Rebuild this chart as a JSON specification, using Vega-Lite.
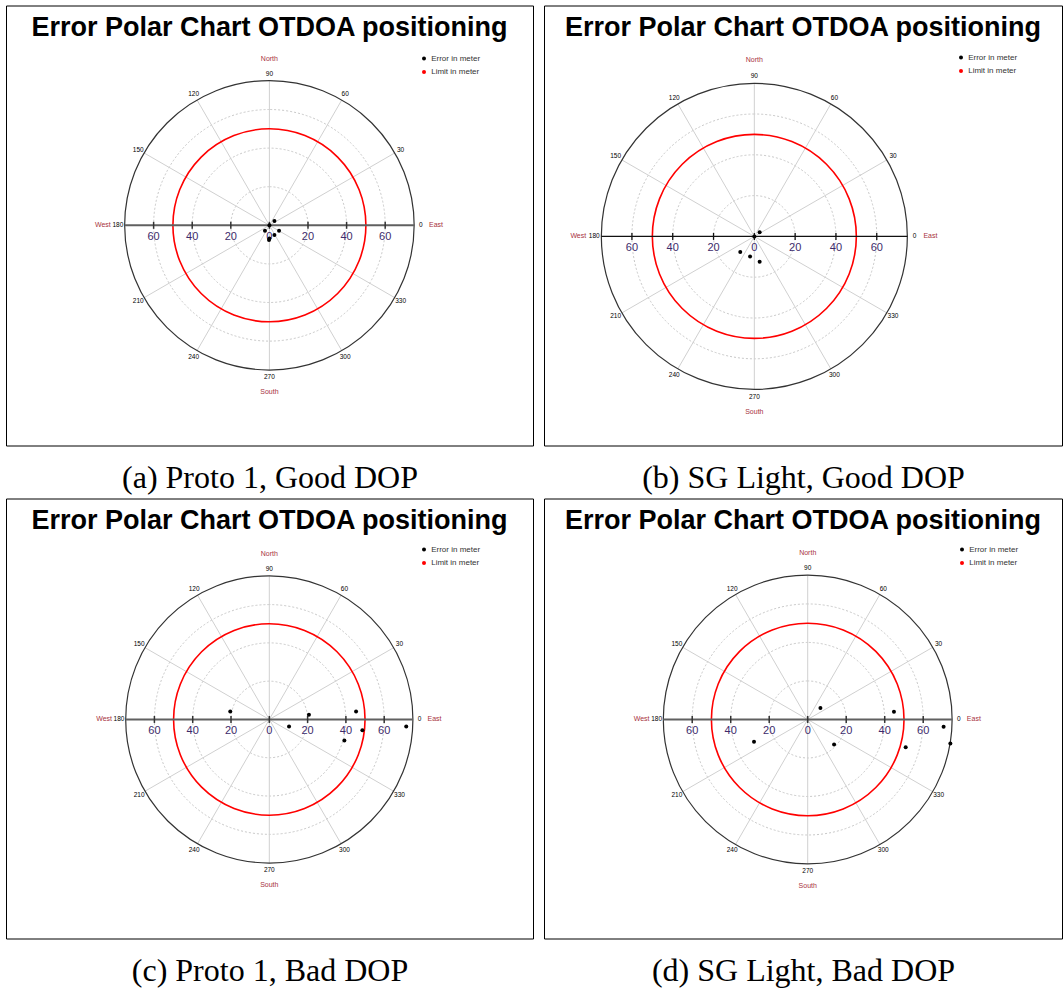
{
  "$schema": "https://vega.github.io/schema/vega-lite/v6.json",
  "padding": {"left": 5, "top": 4.5, "right": 0, "bottom": 0},
  "background": "white",
  "config": {
    "font": "Liberation Sans",
    "view": {"stroke": "black", "strokeWidth": 1},
    "title": {"font": "Liberation Sans", "fontSize": 27, "fontWeight": "bold", "color": "black", "anchor": "middle", "offset": -36},
    "axisX": {"domain": false, "ticks": false, "labels": false, "grid": false, "titleFont": "Liberation Serif", "titleFontSize": 32, "titleFontWeight": "normal", "titleColor": "black", "titlePadding": 17},
    "legend": {"title": null, "orient": "none", "direction": "vertical", "symbolType": "circle", "symbolSize": 16, "symbolStrokeWidth": 0, "labelFont": "Liberation Sans", "labelFontSize": 8, "labelColor": "#333333", "rowPadding": 5.6, "labelOffset": 3.2, "padding": 0}
  },
  "datasets": {
    "circles": [{"x": 0, "y": 0, "r": 20}, {"x": 0, "y": 0, "r": 40}, {"x": 0, "y": 0, "r": 60}],
    "outer": [{"x": 0, "y": 0, "r": 75}],
    "limit": [{"x": 0, "y": 0, "r": 50}],
    "spokes": [
      {"x": 64.95, "y": 37.5, "x2": -64.95, "y2": -37.5},
      {"x": 37.5, "y": 64.95, "x2": -37.5, "y2": -64.95},
      {"x": 0, "y": 75, "x2": 0, "y2": -75},
      {"x": -37.5, "y": 64.95, "x2": 37.5, "y2": -64.95},
      {"x": -64.95, "y": 37.5, "x2": 64.95, "y2": -37.5}
    ],
    "axisline": [{"x": -75, "y": 0, "x2": 75, "y2": 0}],
    "ticks": [{"x": -60, "y": 0, "lab": "60"}, {"x": -40, "y": 0, "lab": "40"}, {"x": -20, "y": 0, "lab": "20"}, {"x": 0, "y": 0, "lab": "0"}, {"x": 20, "y": 0, "lab": "20"}, {"x": 40, "y": 0, "lab": "40"}, {"x": 60, "y": 0, "lab": "60"}],
    "angles": [{"x": 0, "y": 0, "ang": 0, "lab": "0"}, {"x": 0, "y": 0, "ang": 30, "lab": "30"}, {"x": 0, "y": 0, "ang": 60, "lab": "60"}, {"x": 0, "y": 0, "ang": 90, "lab": "90"}, {"x": 0, "y": 0, "ang": 120, "lab": "120"}, {"x": 0, "y": 0, "ang": 150, "lab": "150"}, {"x": 0, "y": 0, "ang": 180, "lab": "180"}, {"x": 0, "y": 0, "ang": 210, "lab": "210"}, {"x": 0, "y": 0, "ang": 240, "lab": "240"}, {"x": 0, "y": 0, "ang": 270, "lab": "270"}, {"x": 0, "y": 0, "ang": 300, "lab": "300"}, {"x": 0, "y": 0, "ang": 330, "lab": "330"}],
    "compass": [{"x": 0, "y": 0, "ang": 0, "lab": "East"}, {"x": 0, "y": 0, "ang": 90, "lab": "North"}, {"x": 0, "y": 0, "ang": 180, "lab": "West"}, {"x": 0, "y": 0, "ang": 270, "lab": "South"}],
    "pa": [{"x": 0, "y": 0, "series": "Error in meter"}, {"x": 2.6, "y": 2.2, "series": "Error in meter"}, {"x": -2.3, "y": -2.8, "series": "Error in meter"}, {"x": 5.0, "y": -2.8, "series": "Error in meter"}, {"x": 2.6, "y": -5.0, "series": "Error in meter"}, {"x": 0, "y": -6.8, "series": "Error in meter"}, {"x": -0.2, "y": -7.6, "series": "Error in meter"}],
    "pb": [{"x": 0, "y": 0, "series": "Error in meter"}, {"x": 2.6, "y": 2.0, "series": "Error in meter"}, {"x": -6.9, "y": -7.7, "series": "Error in meter"}, {"x": -2.1, "y": -9.8, "series": "Error in meter"}, {"x": 2.6, "y": -12.4, "series": "Error in meter"}],
    "pc": [{"x": -20.4, "y": 4.2, "series": "Error in meter"}, {"x": 20.7, "y": 2.5, "series": "Error in meter"}, {"x": 10.3, "y": -3.7, "series": "Error in meter"}, {"x": 45.3, "y": 4.2, "series": "Error in meter"}, {"x": 48.6, "y": -5.6, "series": "Error in meter"}, {"x": 39.2, "y": -11.0, "series": "Error in meter"}, {"x": 71.5, "y": -3.7, "series": "Error in meter"}],
    "pd": [{"x": 6.6, "y": 5.9, "series": "Error in meter"}, {"x": 44.8, "y": 4.0, "series": "Error in meter"}, {"x": -27.9, "y": -11.6, "series": "Error in meter"}, {"x": 13.7, "y": -13.0, "series": "Error in meter"}, {"x": 50.9, "y": -14.4, "series": "Error in meter"}, {"x": 70.6, "y": -3.8, "series": "Error in meter"}, {"x": 74.1, "y": -12.5, "series": "Error in meter"}]
  },
  "spacing": 3,
  "resolve": {"scale": {"color": "independent"}, "legend": {"color": "independent"}},
  "vconcat": [
    {
      "spacing": 9,
      "resolve": {"scale": {"color": "independent"}, "legend": {"color": "independent"}},
      "hconcat": [
        {
          "width": 527, "height": 440,
          "title": {"text": "Error Polar Chart OTDOA positioning"},
          "encoding": {
            "x": {"field": "x", "type": "quantitative", "scale": {"domain": [-136.5, 136.6], "nice": false, "zero": false}, "axis": {"title": "(a) Proto 1, Good DOP"}},
            "y": {"field": "y", "type": "quantitative", "scale": {"domain": [-114.1, 113.9], "nice": false, "zero": false}, "axis": null}
          },
          "layer": [
            {"data": {"name": "circles"}, "mark": {"type": "arc", "filled": false, "stroke": "#c8c8c8", "strokeDash": [2, 2], "strokeWidth": 1},
             "encoding": {"radius": {"field": "r", "type": "quantitative", "stack": false, "scale": {"type": "linear", "domain": [0, 75], "range": [0, 144.75]}}}},
            {"data": {"name": "spokes"}, "mark": {"type": "rule", "stroke": "#d0d0d0", "strokeWidth": 1}, "encoding": {"x2": {"field": "x2"}, "y2": {"field": "y2"}}},
            {"data": {"name": "outer"}, "mark": {"type": "arc", "filled": false, "stroke": "#333333", "strokeWidth": 1.2},
             "encoding": {"radius": {"field": "r", "type": "quantitative", "stack": false, "scale": {"type": "linear", "domain": [0, 75], "range": [0, 144.75]}}}},
            {"data": {"name": "limit"}, "mark": {"type": "arc", "filled": false, "stroke": "#ff0000", "strokeWidth": 1.6},
             "encoding": {"radius": {"field": "r", "type": "quantitative", "stack": false, "scale": {"type": "linear", "domain": [0, 75], "range": [0, 144.75]}}}},
            {"data": {"name": "axisline"}, "mark": {"type": "rule", "stroke": "#606060", "strokeWidth": 2}, "encoding": {"x2": {"field": "x2"}, "y2": {"field": "y2"}}},
            {"data": {"name": "ticks"}, "mark": {"type": "tick", "orient": "vertical", "size": 7, "thickness": 1.5, "color": "#333333", "opacity": 1}, "encoding": {}},
            {"data": {"name": "ticks"}, "mark": {"type": "text", "dy": 12, "fontSize": 11, "color": "#3d2b6b"}, "encoding": {"text": {"field": "lab"}}},
            {"data": {"name": "angles"}, "mark": {"type": "text", "fontSize": 6.5, "color": "black"},
             "encoding": {"theta": {"field": "ang", "type": "quantitative", "stack": false, "scale": {"domain": [0, 360], "range": [1.5707963, -4.712389]}}, "radius": {"datum": 78.5, "type": "quantitative", "scale": {"type": "linear", "domain": [0, 75], "range": [0, 144.75]}}, "text": {"field": "lab"}}},
            {"data": {"name": "compass"}, "mark": {"type": "text", "fontSize": 7, "color": "#a8323e"},
             "encoding": {"theta": {"field": "ang", "type": "quantitative", "stack": false, "scale": {"domain": [0, 360], "range": [1.5707963, -4.712389]}}, "radius": {"datum": 86.3, "type": "quantitative", "scale": {"type": "linear", "domain": [0, 75], "range": [0, 144.75]}}, "text": {"field": "lab"}}},
            {"data": {"name": "pa"}, "mark": {"type": "point", "filled": true, "size": 16, "opacity": 1},
             "encoding": {"color": {"field": "series", "type": "nominal", "scale": {"domain": ["Error in meter", "Limit in meter"], "range": ["black", "red"]}, "legend": {"legendX": 414, "legendY": 49}}}}
          ]
        },
        {
          "width": 518, "height": 440,
          "title": {"text": "Error Polar Chart OTDOA positioning"},
          "encoding": {
            "x": {"field": "x", "type": "quantitative", "scale": {"domain": [-103.1, 150.8], "nice": false, "zero": false}, "axis": {"title": "(b) SG Light, Good DOP"}},
            "y": {"field": "y", "type": "quantitative", "scale": {"domain": [-102.5, 113.2], "nice": false, "zero": false}, "axis": null}
          },
          "layer": [
            {"data": {"name": "circles"}, "mark": {"type": "arc", "filled": false, "stroke": "#c8c8c8", "strokeDash": [2, 2], "strokeWidth": 1},
             "encoding": {"radius": {"field": "r", "type": "quantitative", "stack": false, "scale": {"type": "linear", "domain": [0, 75], "range": [0, 153]}}}},
            {"data": {"name": "spokes"}, "mark": {"type": "rule", "stroke": "#d0d0d0", "strokeWidth": 1}, "encoding": {"x2": {"field": "x2"}, "y2": {"field": "y2"}}},
            {"data": {"name": "outer"}, "mark": {"type": "arc", "filled": false, "stroke": "#333333", "strokeWidth": 1.2},
             "encoding": {"radius": {"field": "r", "type": "quantitative", "stack": false, "scale": {"type": "linear", "domain": [0, 75], "range": [0, 153]}}}},
            {"data": {"name": "limit"}, "mark": {"type": "arc", "filled": false, "stroke": "#ff0000", "strokeWidth": 1.6},
             "encoding": {"radius": {"field": "r", "type": "quantitative", "stack": false, "scale": {"type": "linear", "domain": [0, 75], "range": [0, 153]}}}},
            {"data": {"name": "axisline"}, "mark": {"type": "rule", "stroke": "#111111", "strokeWidth": 1.3}, "encoding": {"x2": {"field": "x2"}, "y2": {"field": "y2"}}},
            {"data": {"name": "ticks"}, "mark": {"type": "tick", "orient": "vertical", "size": 7, "thickness": 1.3, "color": "#111111", "opacity": 1}, "encoding": {}},
            {"data": {"name": "ticks"}, "mark": {"type": "text", "dy": 12, "fontSize": 11, "color": "#3d2b6b"}, "encoding": {"text": {"field": "lab"}}},
            {"data": {"name": "angles"}, "mark": {"type": "text", "fontSize": 6.5, "color": "black"},
             "encoding": {"theta": {"field": "ang", "type": "quantitative", "stack": false, "scale": {"domain": [0, 360], "range": [1.5707963, -4.712389]}}, "radius": {"datum": 78.5, "type": "quantitative", "scale": {"type": "linear", "domain": [0, 75], "range": [0, 153]}}, "text": {"field": "lab"}}},
            {"data": {"name": "compass"}, "mark": {"type": "text", "fontSize": 7, "color": "#a8323e"},
             "encoding": {"theta": {"field": "ang", "type": "quantitative", "stack": false, "scale": {"domain": [0, 360], "range": [1.5707963, -4.712389]}}, "radius": {"datum": 86.3, "type": "quantitative", "scale": {"type": "linear", "domain": [0, 75], "range": [0, 153]}}, "text": {"field": "lab"}}},
            {"data": {"name": "pb"}, "mark": {"type": "point", "filled": true, "size": 16, "opacity": 1},
             "encoding": {"color": {"field": "series", "type": "nominal", "scale": {"domain": ["Error in meter", "Limit in meter"], "range": ["black", "red"]}, "legend": {"legendX": 413, "legendY": 48}}}}
          ]
        }
      ]
    },
    {
      "spacing": 9,
      "resolve": {"scale": {"color": "independent"}, "legend": {"color": "independent"}},
      "hconcat": [
        {
          "width": 527, "height": 440,
          "title": {"text": "Error Polar Chart OTDOA positioning"},
          "encoding": {
            "x": {"field": "x", "type": "quantitative", "scale": {"domain": [-137.5, 137.7], "nice": false, "zero": false}, "axis": {"title": "(c) Proto 1, Bad DOP"}},
            "y": {"field": "y", "type": "quantitative", "scale": {"domain": [-114.4, 115.4], "nice": false, "zero": false}, "axis": null}
          },
          "layer": [
            {"data": {"name": "circles"}, "mark": {"type": "arc", "filled": false, "stroke": "#c8c8c8", "strokeDash": [2, 2], "strokeWidth": 1},
             "encoding": {"radius": {"field": "r", "type": "quantitative", "stack": false, "scale": {"type": "linear", "domain": [0, 75], "range": [0, 143.6]}}}},
            {"data": {"name": "spokes"}, "mark": {"type": "rule", "stroke": "#d0d0d0", "strokeWidth": 1}, "encoding": {"x2": {"field": "x2"}, "y2": {"field": "y2"}}},
            {"data": {"name": "outer"}, "mark": {"type": "arc", "filled": false, "stroke": "#333333", "strokeWidth": 1.2},
             "encoding": {"radius": {"field": "r", "type": "quantitative", "stack": false, "scale": {"type": "linear", "domain": [0, 75], "range": [0, 143.6]}}}},
            {"data": {"name": "limit"}, "mark": {"type": "arc", "filled": false, "stroke": "#ff0000", "strokeWidth": 1.6},
             "encoding": {"radius": {"field": "r", "type": "quantitative", "stack": false, "scale": {"type": "linear", "domain": [0, 75], "range": [0, 143.6]}}}},
            {"data": {"name": "axisline"}, "mark": {"type": "rule", "stroke": "#606060", "strokeWidth": 2}, "encoding": {"x2": {"field": "x2"}, "y2": {"field": "y2"}}},
            {"data": {"name": "ticks"}, "mark": {"type": "tick", "orient": "vertical", "size": 7, "thickness": 1.5, "color": "#333333", "opacity": 1}, "encoding": {}},
            {"data": {"name": "ticks"}, "mark": {"type": "text", "dy": 12, "fontSize": 11, "color": "#3d2b6b"}, "encoding": {"text": {"field": "lab"}}},
            {"data": {"name": "angles"}, "mark": {"type": "text", "fontSize": 6.5, "color": "black"},
             "encoding": {"theta": {"field": "ang", "type": "quantitative", "stack": false, "scale": {"domain": [0, 360], "range": [1.5707963, -4.712389]}}, "radius": {"datum": 78.5, "type": "quantitative", "scale": {"type": "linear", "domain": [0, 75], "range": [0, 143.6]}}, "text": {"field": "lab"}}},
            {"data": {"name": "compass"}, "mark": {"type": "text", "fontSize": 7, "color": "#a8323e"},
             "encoding": {"theta": {"field": "ang", "type": "quantitative", "stack": false, "scale": {"domain": [0, 360], "range": [1.5707963, -4.712389]}}, "radius": {"datum": 86.3, "type": "quantitative", "scale": {"type": "linear", "domain": [0, 75], "range": [0, 143.6]}}, "text": {"field": "lab"}}},
            {"data": {"name": "pc"}, "mark": {"type": "point", "filled": true, "size": 16, "opacity": 1},
             "encoding": {"color": {"field": "series", "type": "nominal", "scale": {"domain": ["Error in meter", "Limit in meter"], "range": ["black", "red"]}, "legend": {"legendX": 414, "legendY": 47}}}}
          ]
        },
        {
          "width": 518, "height": 440,
          "title": {"text": "Error Polar Chart OTDOA positioning"},
          "encoding": {
            "x": {"field": "x", "type": "quantitative", "scale": {"domain": [-137.0, 132.1], "nice": false, "zero": false}, "axis": {"title": "(d) SG Light, Bad DOP"}},
            "y": {"field": "y", "type": "quantitative", "scale": {"domain": [-113.8, 114.8], "nice": false, "zero": false}, "axis": null}
          },
          "layer": [
            {"data": {"name": "circles"}, "mark": {"type": "arc", "filled": false, "stroke": "#c8c8c8", "strokeDash": [2, 2], "strokeWidth": 1},
             "encoding": {"radius": {"field": "r", "type": "quantitative", "stack": false, "scale": {"type": "linear", "domain": [0, 75], "range": [0, 144.4]}}}},
            {"data": {"name": "spokes"}, "mark": {"type": "rule", "stroke": "#d0d0d0", "strokeWidth": 1}, "encoding": {"x2": {"field": "x2"}, "y2": {"field": "y2"}}},
            {"data": {"name": "outer"}, "mark": {"type": "arc", "filled": false, "stroke": "#333333", "strokeWidth": 1.2},
             "encoding": {"radius": {"field": "r", "type": "quantitative", "stack": false, "scale": {"type": "linear", "domain": [0, 75], "range": [0, 144.4]}}}},
            {"data": {"name": "limit"}, "mark": {"type": "arc", "filled": false, "stroke": "#ff0000", "strokeWidth": 1.6},
             "encoding": {"radius": {"field": "r", "type": "quantitative", "stack": false, "scale": {"type": "linear", "domain": [0, 75], "range": [0, 144.4]}}}},
            {"data": {"name": "axisline"}, "mark": {"type": "rule", "stroke": "#606060", "strokeWidth": 2}, "encoding": {"x2": {"field": "x2"}, "y2": {"field": "y2"}}},
            {"data": {"name": "ticks"}, "mark": {"type": "tick", "orient": "vertical", "size": 7, "thickness": 1.5, "color": "#333333", "opacity": 1}, "encoding": {}},
            {"data": {"name": "ticks"}, "mark": {"type": "text", "dy": 12, "fontSize": 11, "color": "#3d2b6b"}, "encoding": {"text": {"field": "lab"}}},
            {"data": {"name": "angles"}, "mark": {"type": "text", "fontSize": 6.5, "color": "black"},
             "encoding": {"theta": {"field": "ang", "type": "quantitative", "stack": false, "scale": {"domain": [0, 360], "range": [1.5707963, -4.712389]}}, "radius": {"datum": 78.5, "type": "quantitative", "scale": {"type": "linear", "domain": [0, 75], "range": [0, 144.4]}}, "text": {"field": "lab"}}},
            {"data": {"name": "compass"}, "mark": {"type": "text", "fontSize": 7, "color": "#a8323e"},
             "encoding": {"theta": {"field": "ang", "type": "quantitative", "stack": false, "scale": {"domain": [0, 360], "range": [1.5707963, -4.712389]}}, "radius": {"datum": 86.3, "type": "quantitative", "scale": {"type": "linear", "domain": [0, 75], "range": [0, 144.4]}}, "text": {"field": "lab"}}},
            {"data": {"name": "pd"}, "mark": {"type": "point", "filled": true, "size": 16, "opacity": 1},
             "encoding": {"color": {"field": "series", "type": "nominal", "scale": {"domain": ["Error in meter", "Limit in meter"], "range": ["black", "red"]}, "legend": {"legendX": 414, "legendY": 47}}}}
          ]
        }
      ]
    }
  ]
}
